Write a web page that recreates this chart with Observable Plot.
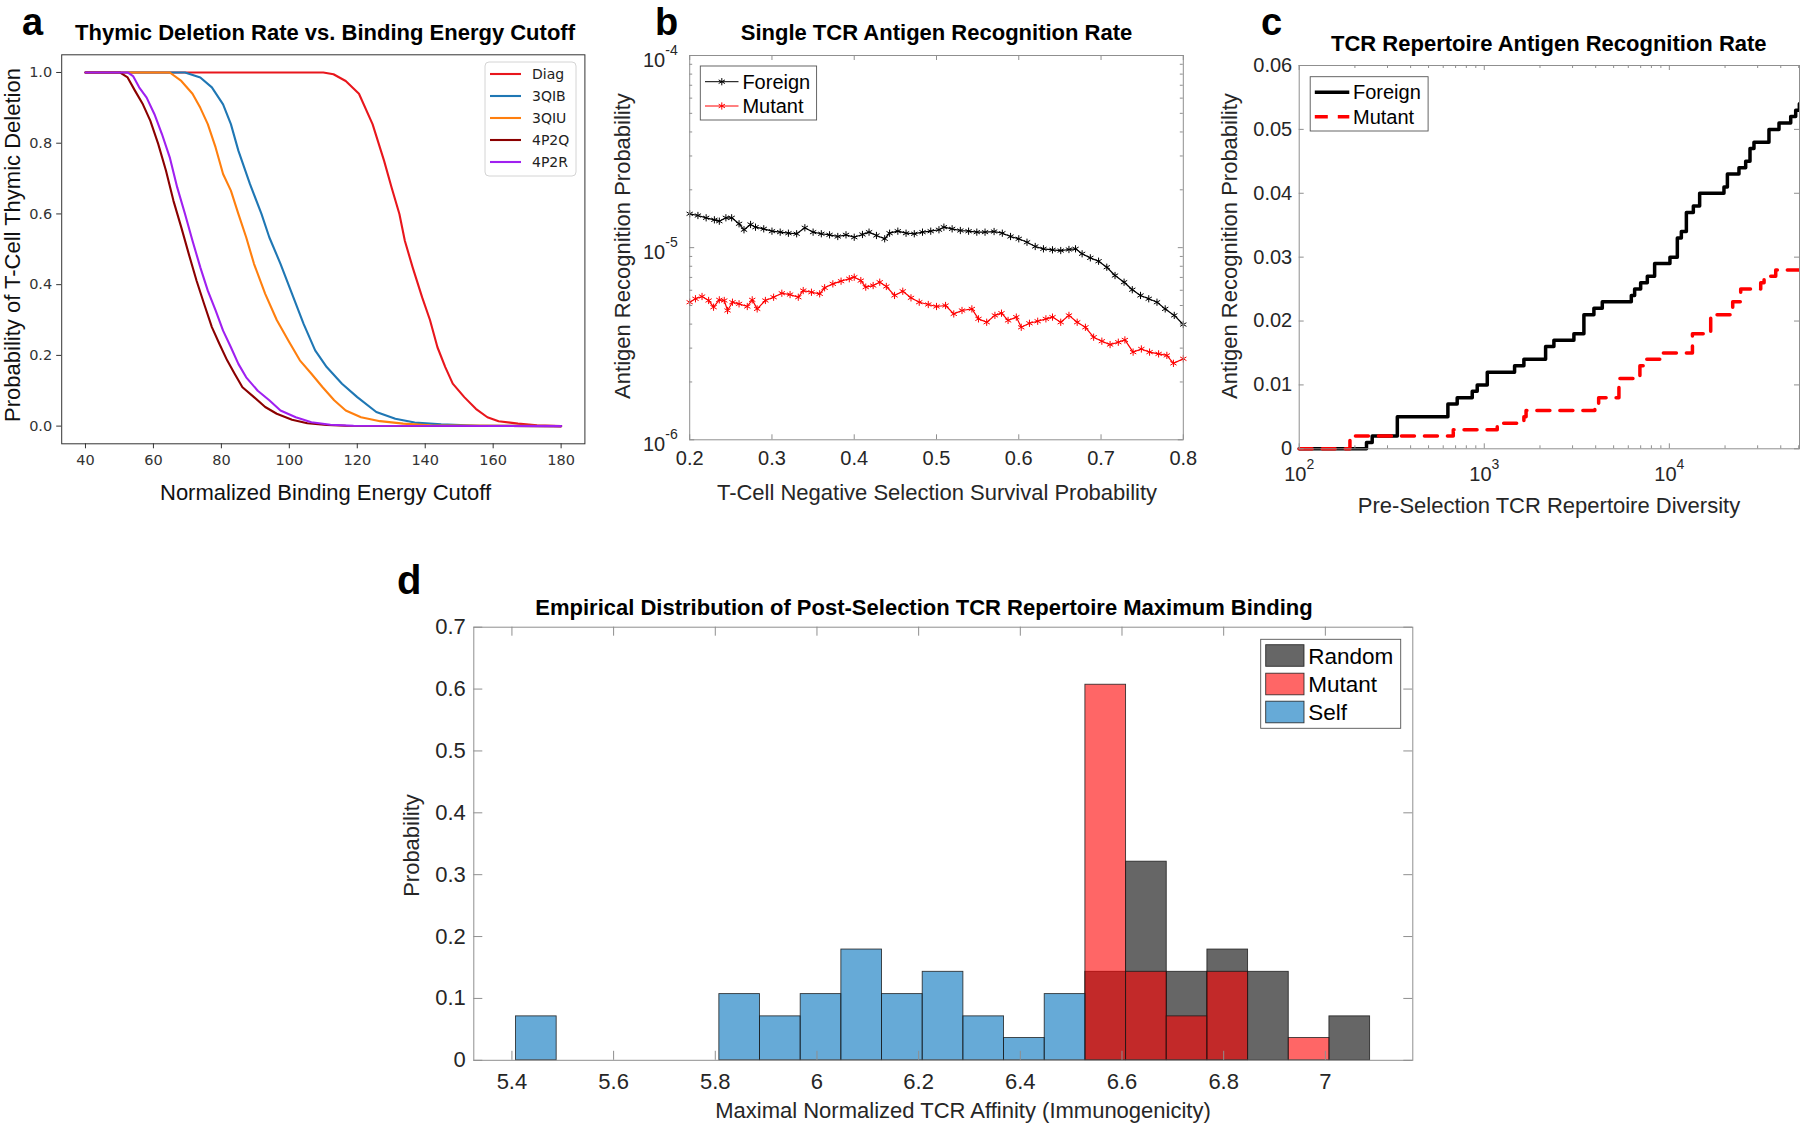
<!DOCTYPE html>
<html><head><meta charset="utf-8">
<script src="https://cdn.jsdelivr.net/npm/d3@7"></script>
<script src="https://cdn.jsdelivr.net/npm/@observablehq/plot@0.6"></script>
<style>
html,body{margin:0;padding:0;background:#fff;}
#fig{position:relative;width:1800px;height:1125px;overflow:hidden;background:#fff;}
</style></head><body><div id="fig"></div>
<script>
// ---------------- Panel a: thymic deletion ----------------
const thymicSeries = ["Diag", "3QIB", "3QIU", "4P2Q", "4P2R"];
const cutoffDiag = [40,110,113,116.6,120.5,124.5,127.9,130.1,132.4,134,136.3,139.1,141.4,143.6,145.9,148.1,151.5,154.9,158.3,161.6,167.3,172.9,180];
const deletionDiag = [1,1,0.995,0.976,0.94,0.854,0.75,0.675,0.6,0.524,0.449,0.364,0.3,0.223,0.167,0.12,0.082,0.049,0.025,0.014,0.007,0.002,0];
const cutoff3QIB = [40,69.3,73.8,77.2,80.5,82.8,85,88.4,91.8,94.1,97.4,100.8,104.2,107.6,111,115.5,120,125.6,131.2,136.9,144.7,156,180];
const deletion3QIB = [1,1,0.986,0.958,0.91,0.854,0.779,0.685,0.6,0.534,0.459,0.374,0.289,0.214,0.167,0.12,0.082,0.04,0.021,0.01,0.005,0.001,0];
const cutoff3QIU = [40,64.8,68.2,71.5,73.8,76,78.3,80.5,82.8,85,87.3,89.6,92.9,96.3,99.7,103.1,106.5,109.8,113.2,116.6,121.1,126.7,133.5,141.4,180];
const deletion3QIU = [1,1,0.976,0.94,0.9,0.854,0.788,0.713,0.666,0.6,0.534,0.459,0.374,0.3,0.242,0.186,0.148,0.11,0.073,0.044,0.025,0.014,0.007,0.002,0];
const cutoff4P2Q = [40,50.1,52.4,54.6,56.9,59.1,61.4,63.7,65.9,68.2,70.4,72.7,74.9,77.2,79.4,81.7,83.9,86.2,89.6,92.9,96.3,100.8,105.3,111,116.6,180];
const deletion4P2Q = [1,1,0.986,0.948,0.91,0.863,0.798,0.722,0.637,0.562,0.487,0.411,0.346,0.28,0.233,0.186,0.148,0.11,0.082,0.054,0.035,0.018,0.008,0.003,0.001,0];
const cutoff4P2R = [40,52.4,54,55.8,58,60.3,62.5,64.8,67,69.3,71.5,73.8,76,78.3,80.5,82.8,85,87.3,90.7,94.1,97.4,101.9,106.5,112.1,118.9,180];
const deletion4P2R = [1,1,0.99,0.958,0.929,0.882,0.826,0.76,0.675,0.6,0.524,0.449,0.383,0.327,0.27,0.223,0.176,0.138,0.1,0.073,0.044,0.025,0.011,0.004,0.001,0];
const energyTicks = [40,60,80,100,120,140,160,180];
const deletionTicks = [0,0.2,0.4,0.6,0.8,1.0];

// ---------------- Panel b: single TCR recognition ----------------
const survivalForeign = [0.200,0.210,0.220,0.230,0.236,0.244,0.251,0.260,0.266,0.274,0.280,0.290,0.300,0.310,0.320,0.330,0.340,0.350,0.360,0.370,0.380,0.390,0.400,0.410,0.418,0.427,0.437,0.443,0.453,0.463,0.473,0.483,0.493,0.503,0.509,0.519,0.529,0.539,0.549,0.559,0.570,0.580,0.590,0.600,0.610,0.620,0.630,0.641,0.651,0.661,0.669,0.677,0.687,0.697,0.707,0.717,0.728,0.738,0.748,0.758,0.768,0.778,0.789,0.800];
const recognitionForeign = [1.500e-5,1.470e-5,1.430e-5,1.396e-5,1.373e-5,1.430e-5,1.430e-5,1.331e-5,1.239e-5,1.320e-5,1.278e-5,1.253e-5,1.218e-5,1.204e-5,1.189e-5,1.181e-5,1.269e-5,1.204e-5,1.181e-5,1.166e-5,1.143e-5,1.166e-5,1.133e-5,1.171e-5,1.204e-5,1.157e-5,1.112e-5,1.189e-5,1.218e-5,1.189e-5,1.181e-5,1.204e-5,1.218e-5,1.239e-5,1.278e-5,1.253e-5,1.228e-5,1.218e-5,1.204e-5,1.204e-5,1.213e-5,1.189e-5,1.143e-5,1.112e-5,1.067e-5,1.014e-5,9.86e-6,9.74e-6,9.66e-6,9.78e-6,9.86e-6,9.29e-6,8.85e-6,8.50e-6,7.91e-6,7.16e-6,6.61e-6,6.04e-6,5.64e-6,5.42e-6,5.20e-6,4.80e-6,4.44e-6,3.98e-6];
const survivalMutant = [0.200,0.207,0.215,0.223,0.229,0.236,0.242,0.246,0.252,0.260,0.270,0.276,0.282,0.292,0.302,0.312,0.322,0.332,0.338,0.348,0.358,0.364,0.374,0.384,0.394,0.400,0.408,0.414,0.423,0.431,0.439,0.449,0.459,0.469,0.479,0.490,0.500,0.511,0.521,0.531,0.543,0.551,0.561,0.571,0.579,0.587,0.597,0.603,0.613,0.623,0.633,0.641,0.651,0.661,0.671,0.681,0.691,0.701,0.711,0.721,0.729,0.739,0.749,0.759,0.770,0.780,0.788,0.800];
const recognitionMutant = [5.20e-6,5.42e-6,5.57e-6,5.31e-6,4.90e-6,5.35e-6,5.31e-6,4.71e-6,5.20e-6,5.10e-6,4.94e-6,5.35e-6,4.80e-6,5.31e-6,5.52e-6,5.79e-6,5.70e-6,5.52e-6,5.98e-6,5.86e-6,5.75e-6,6.18e-6,6.48e-6,6.69e-6,6.89e-6,7.02e-6,6.74e-6,6.23e-6,6.35e-6,6.61e-6,6.28e-6,5.64e-6,5.93e-6,5.48e-6,5.20e-6,5.06e-6,4.94e-6,5.00e-6,4.52e-6,4.71e-6,4.80e-6,4.26e-6,4.09e-6,4.44e-6,4.56e-6,4.18e-6,4.35e-6,3.85e-6,4.04e-6,4.14e-6,4.26e-6,4.35e-6,4.09e-6,4.44e-6,4.09e-6,3.85e-6,3.42e-6,3.26e-6,3.13e-6,3.22e-6,3.31e-6,2.86e-6,2.97e-6,2.86e-6,2.80e-6,2.75e-6,2.50e-6,2.64e-6];
const survivalTicks = [0.2,0.3,0.4,0.5,0.6,0.7,0.8];
const recognitionTicks = [1e-6,1e-5,1e-4];
const recognitionMinor = [2e-6,3e-6,4e-6,5e-6,6e-6,7e-6,8e-6,9e-6,2e-5,3e-5,4e-5,5e-5,6e-5,7e-5,8e-5,9e-5];

// ---------------- Panel c: repertoire recognition ----------------
const diversityForeign = [100,231,248,339,636,714,861,916,1038,1458,1637,2145,2378,3050,3454,3912,4342,6230,6493,6998,7603,8327,10076,11045,11610,12360,13480,14580,19730,20590,23780,25850,27280,28660,34540,39130,45270,48160,50400];
const repRateForeign = [0,0.001,0.002,0.005,0.007,0.008,0.009,0.010,0.012,0.013,0.014,0.016,0.017,0.018,0.021,0.022,0.023,0.024,0.025,0.026,0.027,0.029,0.030,0.033,0.034,0.037,0.038,0.040,0.041,0.043,0.044,0.045,0.047,0.048,0.050,0.051,0.052,0.053,0.054];
const diversityMutant = [100,188,680,1175,1637,1682,3957,4150,5341,6934,7540,8950,13330,16730,21460,22000,24300,31170,32500,37570,50400];
const repRateMutant = [0,0.002,0.003,0.004,0.005,0.006,0.007,0.008,0.011,0.013,0.014,0.015,0.018,0.021,0.022,0.023,0.025,0.026,0.027,0.028,0.028];
const diversityTicks = [100,1000,10000];
const diversityMinor = [200,300,400,500,600,700,800,900,2000,3000,4000,5000,6000,7000,8000,9000,20000,30000,40000,50000];
const repRateTicks = [0,0.01,0.02,0.03,0.04,0.05,0.06];

// ---------------- Panel d: histogram ----------------
const affinityEdges = [5.408,5.488,5.568,5.648,5.728,5.808,5.888,5.968,6.048,6.128,6.208,6.288,6.368,6.448,6.528,6.608,6.688,6.768,6.848,6.928,7.008,7.088];
const probRandom = [0,0,0,0,0,0,0,0,0,0,0,0,0,0,0.143,0.321,0.143,0.179,0.143,0,0.071];
const probMutant = [0,0,0,0,0,0,0,0,0,0,0,0,0,0,0.607,0.143,0.071,0.143,0,0.036,0];
const probSelf   = [0.071,0,0,0,0,0.107,0.071,0.107,0.179,0.107,0.143,0.071,0.036,0.107,0,0,0,0,0,0,0];
const histSeries = ["Random", "Mutant", "Self"];
const affinityTicks = [5.4,5.6,5.8,6,6.2,6.4,6.6,6.8,7];
const probTicks = [0,0.1,0.2,0.3,0.4,0.5,0.6,0.7];

// =============== rendering ===============
const NS = "http://www.w3.org/2000/svg";
const fig = document.getElementById("fig");
const SANS = '"Liberation Sans", Arial, Helvetica, sans-serif';

function mount(svg, left, top) {
  svg.style.position = "absolute";
  svg.style.left = left + "px";
  svg.style.top = top + "px";
  svg.style.maxWidth = "none";
  svg.style.overflow = "visible";
  fig.appendChild(svg);
}
function zipXY(xs, ys) { return xs.map((x, i) => ({x, y: ys[i]})); }
function boxTicks({x = [], y = [], len = 5, W, H, stroke}) {
  return [
    Plot.tickX(x, {x: d => d, insetTop: H - len, stroke, strokeWidth: 1}),
    Plot.tickX(x, {x: d => d, insetBottom: H - len, stroke, strokeWidth: 1}),
    Plot.tickY(y, {y: d => d, insetRight: W - len, stroke, strokeWidth: 1}),
    Plot.tickY(y, {y: d => d, insetLeft: W - len, stroke, strokeWidth: 1})
  ];
}
function superscripts(svg, fontSize, shift) {
  svg.querySelectorAll("text").forEach(t => {
    const m = /^10\^(-?\d+)$/.exec(t.textContent);
    if (!m) return;
    t.textContent = "";
    const base = document.createElementNS(NS, "tspan");
    base.setAttribute("dy", shift + "px");
    base.textContent = "10";
    const sup = document.createElementNS(NS, "tspan");
    sup.setAttribute("dy", (-0.6 * fontSize) + "px");
    sup.setAttribute("font-size", (0.7 * fontSize) + "px");
    sup.textContent = m[1];
    t.appendChild(base); t.appendChild(sup);
  });
}

// ---- Panel a ----
const thymicColors = ["#e8161c", "#1f77b4", "#ff7f0e", "#8b0000", "#a020f0"];
const thymicX = [cutoffDiag, cutoff3QIB, cutoff3QIU, cutoff4P2Q, cutoff4P2R];
const thymicY = [deletionDiag, deletion3QIB, deletion3QIU, deletion4P2Q, deletion4P2R];
const plotA = Plot.plot({
  width: 600, height: 520,
  marginLeft: 61.2, marginRight: 15.6, marginTop: 54.3, marginBottom: 76.7,
  style: {fontFamily: '"DejaVu Sans", sans-serif', fontSize: "14.5px", color: "#333", background: "transparent", overflow: "visible"},
  x: {domain: [33, 187]},
  y: {domain: [-0.05, 1.05]},
  marks: [
    ...thymicSeries.map((name, i) => Plot.line(zipXY(thymicX[i], thymicY[i]), {x: "x", y: "y", stroke: thymicColors[i], strokeWidth: 2.1})),
    Plot.frame({stroke: "#333", strokeWidth: 1}),
    Plot.axisX({ticks: energyTicks, tickSize: 5, tickPadding: 6, tickFormat: d => String(d), label: null}),
    Plot.axisY({ticks: deletionTicks, tickSize: 5, tickPadding: 4.5, tickFormat: d => d.toFixed(1), label: null})
  ]
});
mount(plotA, 0, 0);

// ---- Panel b ----
const bW = 600 - 89.2 - 17.2, bH = 520 - 55 - 80.7;
const foreignB = zipXY(survivalForeign, recognitionForeign);
const mutantB = zipXY(survivalMutant, recognitionMutant);
const plotB = Plot.plot({
  width: 600, height: 520,
  marginLeft: 89.2, marginRight: 17.2, marginTop: 55, marginBottom: 80.7,
  style: {fontFamily: SANS, fontSize: "20px", color: "#262626", background: "transparent", overflow: "visible"},
  x: {domain: [0.2, 0.8]},
  y: {type: "log", domain: [1e-6, 1e-4]},
  marks: [
    Plot.line(foreignB, {x: "x", y: "y", stroke: "#000", strokeWidth: 1.2}),
    Plot.dot(foreignB, {x: "x", y: "y", symbol: "asterisk", r: 3.4, stroke: "#000", strokeWidth: 1}),
    Plot.line(mutantB, {x: "x", y: "y", stroke: "#ff0000", strokeWidth: 1.2}),
    Plot.dot(mutantB, {x: "x", y: "y", symbol: "asterisk", r: 3.4, stroke: "#ff0000", strokeWidth: 1}),
    Plot.frame({stroke: "#8f8f8f", strokeWidth: 1}),
    ...boxTicks({x: survivalTicks, y: recognitionTicks, len: 5, W: bW, H: bH, stroke: "#8f8f8f"}),
    ...boxTicks({y: recognitionMinor, len: 3, W: bW, H: bH, stroke: "#8f8f8f"}),
    Plot.axisX({ticks: survivalTicks, tickSize: 0, tickPadding: 11, tickFormat: d => d.toFixed(1), label: null}),
    Plot.axisY({ticks: recognitionTicks, tickSize: 0, tickPadding: 12, tickFormat: d => "10^" + Math.round(Math.log10(d)), label: null})
  ]
});
superscripts(plotB, 20, 5);
mount(plotB, 600, 0);

// ---- Panel c ----
const cW = 600 - 98.7 - 1, cH = 530 - 65 - 81.7;
const plotC = Plot.plot({
  width: 600, height: 530,
  marginLeft: 98.7, marginRight: 1, marginTop: 65, marginBottom: 81.7,
  style: {fontFamily: SANS, fontSize: "20px", color: "#262626", background: "transparent", overflow: "visible"},
  x: {type: "log", domain: [100, 50500]},
  y: {domain: [0, 0.06]},
  marks: [
    Plot.line(zipXY(diversityForeign, repRateForeign), {x: "x", y: "y", curve: "step-after", stroke: "#000", strokeWidth: 3.5}),
    Plot.line(zipXY(diversityMutant, repRateMutant), {x: "x", y: "y", curve: "step-after", stroke: "#ff0000", strokeWidth: 3.5, strokeDasharray: "13,10"}),
    Plot.frame({stroke: "#8f8f8f", strokeWidth: 1}),
    ...boxTicks({x: diversityTicks, y: repRateTicks, len: 5, W: cW, H: cH, stroke: "#8f8f8f"}),
    ...boxTicks({x: diversityMinor, len: 3, W: cW, H: cH, stroke: "#8f8f8f"}),
    Plot.axisX({ticks: diversityTicks, tickSize: 0, tickPadding: 18, tickFormat: d => "10^" + Math.round(Math.log10(d)), label: null}),
    Plot.axisY({ticks: repRateTicks, tickSize: 0, tickPadding: 7, tickFormat: d => d === 0 ? "0" : d.toFixed(2), label: null})
  ]
});
superscripts(plotC, 20, 0);
mount(plotC, 1200, 0);

// ---- Panel d ----
const dW = 1100 - 93.3 - 67.7, dH = 565 - 66.7 - 65.2;
const histColors = ["#000000", "#ff0000", "#0072bd"];
const histValues = [probRandom, probMutant, probSelf];
const histBins = d3.range(affinityEdges.length - 1).map(i => ({x1: affinityEdges[i], x2: affinityEdges[i + 1], i}));
const plotD = Plot.plot({
  width: 1100, height: 565,
  marginLeft: 93.3, marginRight: 67.7, marginTop: 66.7, marginBottom: 65.2,
  style: {fontFamily: SANS, fontSize: "22px", color: "#262626", background: "transparent", overflow: "visible"},
  x: {domain: [5.325, 7.172]},
  y: {domain: [0, 0.7]},
  marks: [
    ...histSeries.map((name, s) => Plot.rect(histBins.filter(b => histValues[s][b.i] > 0), {
      x1: "x1", x2: "x2", y1: () => 0, y2: b => histValues[s][b.i],
      fill: histColors[s], fillOpacity: 0.6, stroke: "#1a1a1a", strokeOpacity: 0.85, strokeWidth: 0.9
    })),
    Plot.frame({stroke: "#8f8f8f", strokeWidth: 1}),
    ...boxTicks({x: affinityTicks, y: probTicks, len: 9, W: dW, H: dH, stroke: "#8f8f8f"}),
    Plot.axisX({ticks: affinityTicks, tickSize: 0, tickPadding: 13, tickFormat: d => String(+d.toFixed(1)), label: null}),
    Plot.axisY({ticks: probTicks, tickSize: 0, tickPadding: 8, tickFormat: d => String(+d.toFixed(1)), label: null})
  ]
});
mount(plotD, 380, 560);

// ---- overlay: titles, panel letters, axis labels, legends ----
const ov = d3.create("svg").attr("width", 1800).attr("height", 1125)
  .style("position", "absolute").style("left", "0px").style("top", "0px")
  .style("font-family", SANS).style("pointer-events", "none");
function T(s, x, y, {size = 22, weight = "normal", anchor = "middle", rotate = false, family = null, fill = "#111"} = {}) {
  const t = ov.append("text").text(s).attr("font-size", size).attr("font-weight", weight)
    .attr("text-anchor", anchor).attr("fill", fill)
    .attr("transform", `translate(${x},${y})` + (rotate ? " rotate(-90)" : ""));
  if (family) t.attr("font-family", family);
  return t;
}
// panel letters
T("a", 22, 34.5, {size: 38, weight: "bold", anchor: "start", fill: "#000"});
T("b", 655, 34.5, {size: 38, weight: "bold", anchor: "start", fill: "#000"});
T("c", 1261, 34.5, {size: 38, weight: "bold", anchor: "start", fill: "#000"});
T("d", 397, 594, {size: 40, weight: "bold", anchor: "start", fill: "#000"});
// titles
T("Thymic Deletion Rate vs. Binding Energy Cutoff", 325, 39.5, {weight: "bold", fill: "#000"});
T("Single TCR Antigen Recognition Rate", 936.5, 39.5, {weight: "bold", fill: "#000"});
T("TCR Repertoire Antigen Recognition Rate", 1548.8, 50.5, {weight: "bold", fill: "#000"});
T("Empirical Distribution of Post-Selection TCR Repertoire Maximum Binding", 924, 614.5, {weight: "bold", fill: "#000"});
// axis labels
T("Normalized Binding Energy Cutoff", 325.5, 499.5);
T("Probability of T-Cell Thymic Deletion", 20, 245, {rotate: true});
T("T-Cell Negative Selection Survival Probability", 937, 499.5, {fill: "#262626"});
T("Antigen Recognition Probability", 630, 246, {rotate: true, fill: "#262626"});
T("Pre-Selection TCR Repertoire Diversity", 1549, 512.5, {fill: "#262626"});
T("Antigen Recognition Probability", 1237, 246, {rotate: true, fill: "#262626"});
T("Maximal Normalized TCR Affinity (Immunogenicity)", 963, 1117.5, {fill: "#262626"});
T("Probability", 419, 845.5, {rotate: true, fill: "#262626"});

// legend a
ov.append("rect").attr("x", 485).attr("y", 62).attr("width", 91).attr("height", 114).attr("rx", 4)
  .attr("fill", "#fff").attr("fill-opacity", 0.8).attr("stroke", "#d4d4d4");
thymicSeries.forEach((name, i) => {
  const cy = 74 + 22 * i;
  ov.append("line").attr("x1", 490).attr("x2", 521).attr("y1", cy).attr("y2", cy).attr("stroke", thymicColors[i]).attr("stroke-width", 2.1);
  T(name, 532, cy + 5, {size: 14, anchor: "start", family: '"DejaVu Sans", sans-serif', fill: "#222"});
});

// legend b
ov.append("rect").attr("x", 700.3).attr("y", 66).attr("width", 116.3).attr("height", 54)
  .attr("fill", "#fff").attr("stroke", "#555").attr("stroke-width", 0.9);
const asterisk = d3.symbol(d3.symbolAsterisk, Math.PI * 3.4 * 3.4)();
[["Foreign", "#000", 81.7], ["Mutant", "#ff0000", 106]].forEach(([name, col, cy]) => {
  ov.append("line").attr("x1", 705).attr("x2", 738.5).attr("y1", cy).attr("y2", cy).attr("stroke", col).attr("stroke-width", 1);
  ov.append("path").attr("d", asterisk).attr("transform", `translate(721.8,${cy})`).attr("fill", "none").attr("stroke", col).attr("stroke-width", 1);
  T(name, 742.4, cy + 7, {size: 20, anchor: "start", fill: "#000"});
});

// legend c
ov.append("rect").attr("x", 1310.2).attr("y", 76.7).attr("width", 117.9).attr("height", 54.3)
  .attr("fill", "#fff").attr("stroke", "#555").attr("stroke-width", 0.9);
[["Foreign", "#000", 92.3, null], ["Mutant", "#ff0000", 116.7, "13,10"]].forEach(([name, col, cy, dash]) => {
  const l = ov.append("line").attr("x1", 1314.8).attr("x2", 1349.3).attr("y1", cy).attr("y2", cy).attr("stroke", col).attr("stroke-width", 3.5);
  if (dash) l.attr("stroke-dasharray", dash);
  T(name, 1353, cy + 7, {size: 20, anchor: "start", fill: "#000"});
});

// legend d
ov.append("rect").attr("x", 1260.7).attr("y", 639.3).attr("width", 140).attr("height", 89)
  .attr("fill", "#fff").attr("stroke", "#555").attr("stroke-width", 0.9);
histSeries.forEach((name, s) => {
  const cy = [655.5, 684, 712][s];
  ov.append("rect").attr("x", 1265.7).attr("y", cy - 10.8).attr("width", 38.3).attr("height", 21.6)
    .attr("fill", histColors[s]).attr("fill-opacity", 0.6).attr("stroke", "#1a1a1a").attr("stroke-opacity", 0.85).attr("stroke-width", 0.9);
  T(name, 1308.3, cy + 8, {size: 22.5, anchor: "start", fill: "#000"});
});

fig.appendChild(ov.node());
</script></body></html>
